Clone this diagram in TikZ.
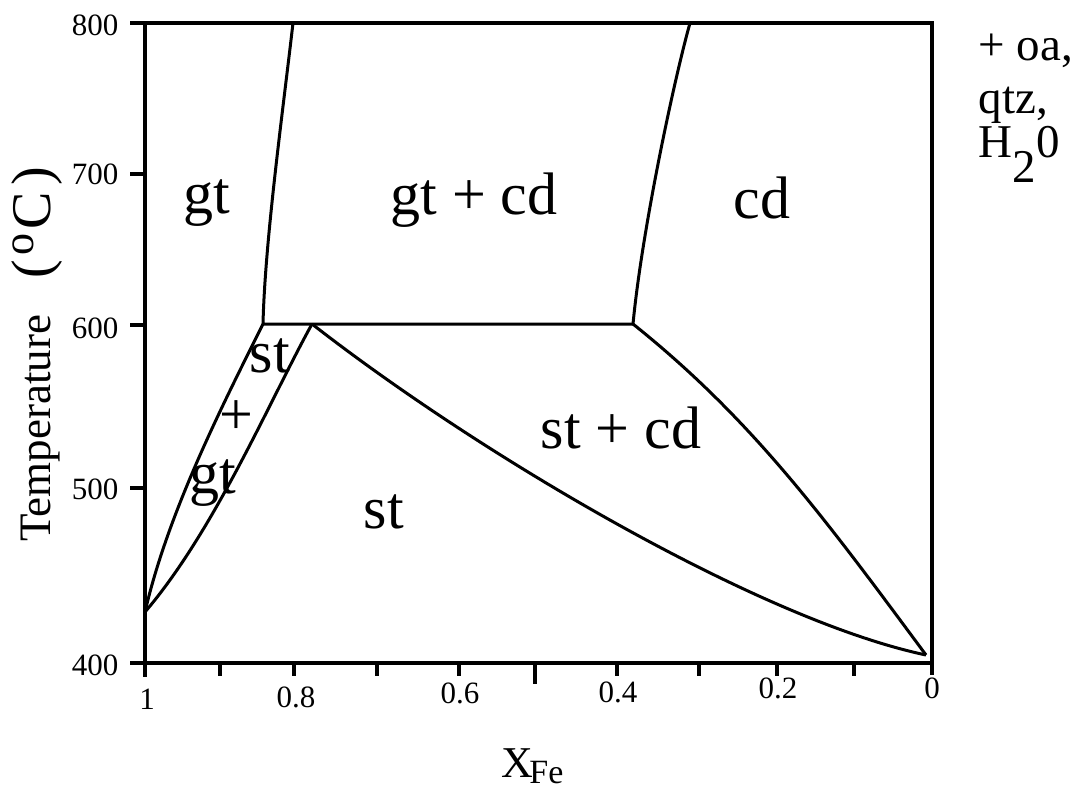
\documentclass[tikz,border=0pt]{standalone}
\usepackage{fontspec}
\setmainfont{Liberation Serif}
\newcommand{\fsz}[1]{\fontsize{#1}{#1}\selectfont}

\begin{document}
\begin{tikzpicture}[x=1pt,y=-1pt,line width=3.2pt,
  phase/.style={line width=3pt},
  region/.style={font=\fsz{60}},
  ticklab/.style={font=\fsz{31},inner sep=0pt}]
\useasboundingbox (0,0) rectangle (1079,790);
% frame
\coordinate (tl) at (145,23);
\coordinate (tr) at (932,23);
\coordinate (bl) at (145,663);
\coordinate (br) at (932,663);
\draw (130,23) -- (tr) -- (932,675);
\draw (130,663) -- (br);
\draw (tl) -- (145,677);
\foreach \y in {174,325,488} \draw (130,\y) -- (145,\y);
\foreach \x in {220,294,377,459,617,699,777,854} \draw (\x,663) -- (\x,676);
\draw (535,663) -- (535,684);
% phase boundaries
\coordinate (p1) at (263,324);
\coordinate (p2) at (312,324);
\coordinate (p3) at (633,324);
\coordinate (p4) at (145,612);
\coordinate (p5) at (926,655);
\draw[phase] (293,23) .. controls (283,110) and (265,240) .. (p1) -- (p3);
\draw[phase] (690,23) .. controls (674,80) and (642,230) .. (p3);
\draw[phase] (p1) .. controls (223,404) and (168,512) .. (p4);
\draw[phase] (p2) .. controls (270,400) and (215,530) .. (p4);
\draw[phase] (p2) .. controls (480,455) and (760,620) .. (p5);
\draw[phase] (p3) .. controls (753,420) and (826,520) .. (p5);
% axis labels
\node[ticklab,anchor=east] (t800) at (120,25) {800};
\node[ticklab,anchor=east] (t700) at (120,174) {700};
\node[ticklab,anchor=east] (t600) at (120,328) {600};
\node[ticklab,anchor=east] (t500) at (120,489) {500};
\node[ticklab,anchor=east] (t400) at (120,665) {400};
\node[ticklab] (x1) at (147,699) {1};
\node[ticklab] (x08) at (296,697) {0.8};
\node[ticklab] (x06) at (460,693) {0.6};
\node[ticklab] (x04) at (618,692) {0.4};
\node[ticklab] (x02) at (778,688) {0.2};
\node[ticklab] (x0) at (932,688) {0};
\node[anchor=base west,inner sep=0pt] (xfe) at (500,777) {\fsz{44}X\kern-4pt\raisebox{-6pt}{\fsz{34}Fe}};
\node[rotate=90,anchor=base west,inner sep=0pt] (temp) at (50,543)
  {\fsz{45}Temperature\hspace{0.8em}{\fsz{56}(\hspace{5pt}\raisebox{17pt}{\fsz{44}o}\hspace{4pt}C\hspace{6pt})}};
% fields
\node[region,anchor=base] (gt) at (207,213) {gt}; %label
\node[region,anchor=base] (gtcd) at (474,214) {gt + cd}; %label
\node[region,anchor=base] (cd) at (762,218) {cd}; %label
\node[region,anchor=base] (stsmall) at (270,372) {st}; %label
\node[region] (plus) at (236,418) {+}; %label
\node[region,anchor=base] (gtsmall) at (213,493) {gt}; %label
\node[region,anchor=base] (stcd) at (621,448) {st + cd}; %label
\node[region,anchor=base] (st) at (384,528) {st}; %label
% assemblage
\node[anchor=base west,inner sep=0pt,font=\fsz{47}] (oa) at (977,60) {+ oa,};
\node[anchor=base west,inner sep=0pt,font=\fsz{47}] (qtz) at (977,113) {qtz,};
\node[anchor=base west,inner sep=0pt,font=\fsz{47}] (water) at (977,157) {H\raisebox{-25pt}{2}0};
\end{tikzpicture}
\end{document}
